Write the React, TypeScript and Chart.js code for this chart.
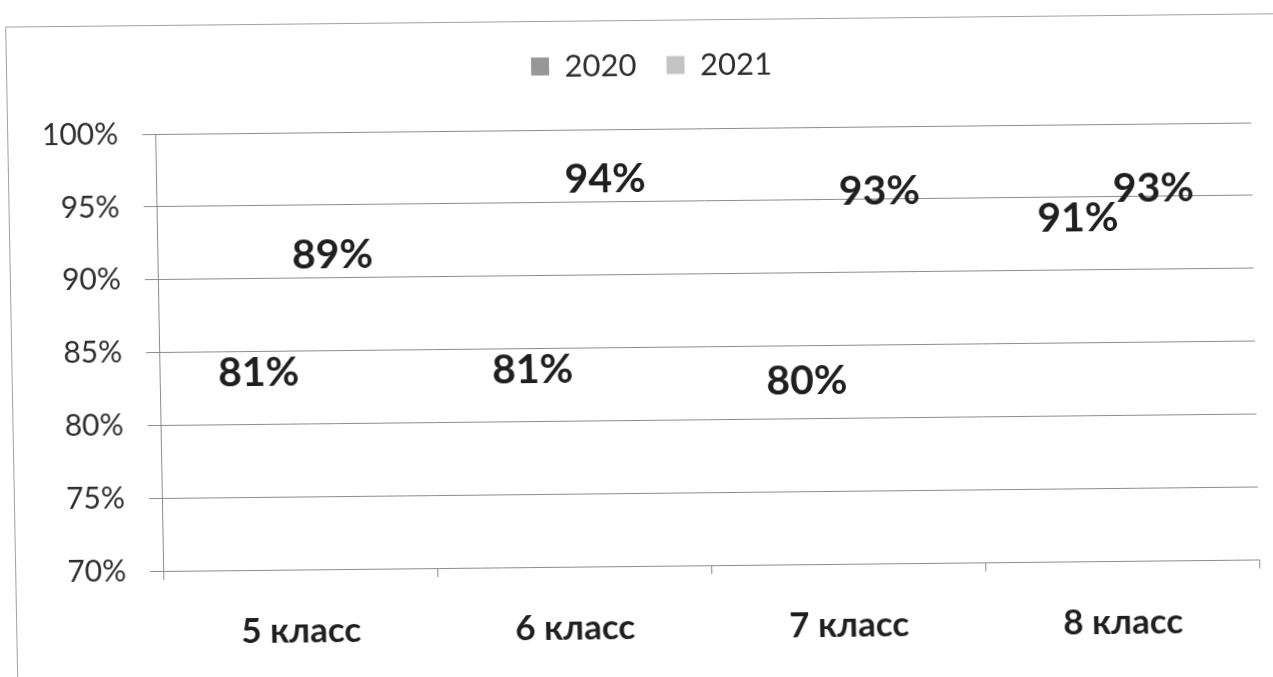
import React, { useEffect, useRef } from "react";
import { Chart, registerables } from "chart.js";

Chart.register(...registerables);

const categories = ["5 класс", "6 класс", "7 класс", "8 класс"];
const seriesNames = ["2020", "2021"];
const values2020 = [81, 81, 80, 91];
const values2021 = [89, 94, 93, 93];
const legendColors = ["#979797", "#c4c4c4"];
const yMin = 70;
const yMax = 100;
const yStep = 5;

const FONT = "Lato, 'Open Sans', sans-serif";

const valueLabels = {
  id: "valueLabels",
  afterDatasetsDraw(chart: any) {
    const ctx = chart.ctx;
    ctx.save();
    ctx.font = `bold 41px ${FONT}`;
    ctx.fillStyle = "#1f1f1f";
    ctx.textAlign = "center";
    ctx.textBaseline = "alphabetic";
    chart.data.datasets.forEach((ds: any, di: number) => {
      const meta = chart.getDatasetMeta(di);
      meta.data.forEach((el: any, i: number) => {
        ctx.fillText(`${ds.data[i]}%`, el.x, el.y - 24);
      });
    });
    ctx.restore();
  },
};

// let the y tick labels extend left of the (narrow) y scale box without being clipped
const unclipY = {
  id: "unclipY",
  beforeDraw(chart: any) {
    const y = chart.scales.y;
    if (y) y.left = 0;
  },
};

export default function App() {
  const ref = useRef<HTMLCanvasElement | null>(null);

  useEffect(() => {
    document.body.style.margin = "0";
    const chart = new Chart(ref.current as HTMLCanvasElement, {
      type: "bar",
      data: {
        labels: categories,
        datasets: [
          { label: seriesNames[0], data: values2020, backgroundColor: "rgba(0,0,0,0)", borderWidth: 0 },
          { label: seriesNames[1], data: values2021, backgroundColor: "rgba(0,0,0,0)", borderWidth: 0 },
        ],
      },
      options: {
        responsive: false,
        animation: false,
        events: [],
        datasets: { bar: { categoryPercentage: 0.555, barPercentage: 0.9 } },
        layout: { padding: { top: 20, left: 58, right: 18, bottom: 0 } },
        plugins: {
          tooltip: { enabled: false },
          legend: {
            position: "top",
            weight: 1000,
            labels: {
              font: { family: FONT, size: 31 },
              color: "#2e2e2e",
              boxWidth: 18,
              boxHeight: 18,
              padding: 30,
              generateLabels: (c: any) =>
                Chart.defaults.plugins.legend.labels.generateLabels(c).map((l: any, i: number) => ({
                  ...l,
                  fillStyle: legendColors[i],
                  strokeStyle: legendColors[i],
                  lineWidth: 0,
                })),
            },
          },
          title: {
            display: true,
            text: "",
            position: "top",
            weight: 100,
            font: { size: 10, lineHeight: 1 },
            padding: { top: 0, bottom: 28 },
          },
        },
        scales: {
          x: {
            afterFit: (s: any) => {
              s.height = 111;
            },
            grid: {
              offset: true,
              drawOnChartArea: false,
              drawTicks: true,
              tickLength: 9,
              color: "#8c8c8c",
            },
            border: { display: true, color: "#8c8c8c" },
            ticks: {
              font: { family: FONT, size: 35, weight: "bold" },
              color: "#1f1f1f",
              padding: 32,
            },
          },
          y: {
            min: yMin,
            max: yMax,
            afterFit: (s: any) => {
              s.width = 101;
            },
            grid: { color: "#8c8c8c", tickLength: 13 },
            border: { display: true, color: "#8c8c8c" },
            ticks: {
              stepSize: yStep,
              font: { family: FONT, size: 30 },
              color: "#2e2e2e",
              padding: 24,
              callback: (v: any) => `${v}%`,
            },
          },
        },
      },
      plugins: [valueLabels, unclipY],
    });
    return () => chart.destroy();
  }, []);

  return (
    <div
      style={{
        position: "fixed",
        left: 0,
        top: 0,
        width: 1273,
        height: 677,
        background: "#ffffff",
        transform: "rotate(-0.6deg) skewX(0.45deg)",
        transformOrigin: "636px 338px",
      }}
    >
      <div
        style={{
          position: "absolute",
          left: 11,
          top: 20,
          width: 1300,
          height: 720,
          borderLeft: "1px solid #a0a0a0",
          borderTop: "1px solid #a0a0a0",
        }}
      />
      <canvas ref={ref} width={1273} height={677} style={{ position: "absolute", left: 0, top: 0 }} />
    </div>
  );
}
